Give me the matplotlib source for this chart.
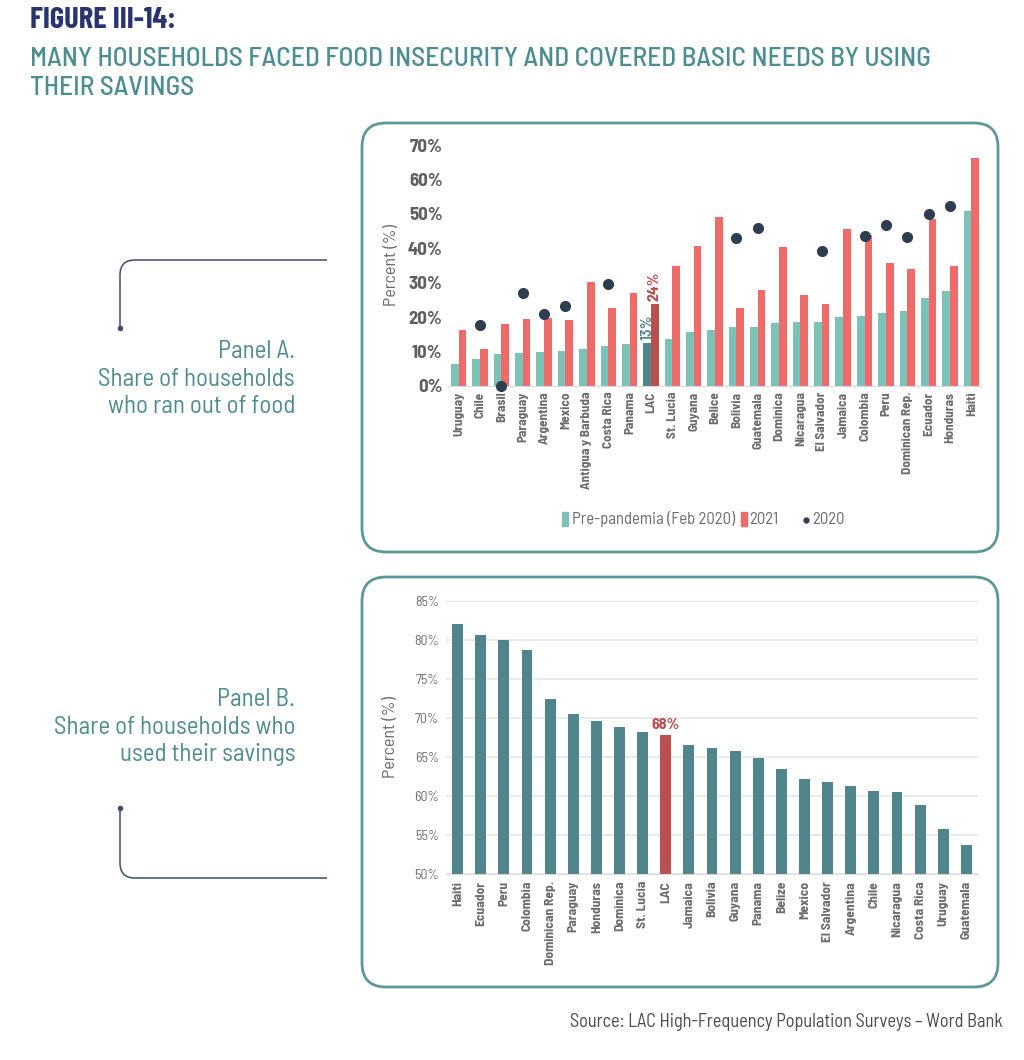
import matplotlib
matplotlib.use("Agg")
import matplotlib.pyplot as plt
from matplotlib.patches import FancyBboxPatch, PathPatch
from matplotlib.path import Path
import numpy as np

plt.rcParams['font.family'] = ['Barlow Semi Condensed', 'DejaVu Sans']
TITLE_FONT = ['Barlow Condensed', 'DejaVu Sans']

# Panel A data
a_countries = ["Uruguay", "Chile", "Brasil", "Paraguay", "Argentina", "Mexico",
               "Antigua y Barbuda", "Costa Rica", "Panama", "LAC", "St. Lucia",
               "Guyana", "Belice", "Bolivia", "Guatemala", "Dominica",
               "Nicaragua", "El Salvador", "Jamaica", "Colombia", "Peru",
               "Dominican Rep.", "Ecuador", "Honduras", "Haiti"]
a_pre = [6.3, 7.7, 9.2, 9.6, 9.8, 10.3, 10.7, 11.5, 12.3, 12.6, 13.6,
         15.7, 16.4, 17.1, 17.2, 18.2, 18.5, 18.7, 20.1, 20.4, 21.1,
         21.9, 25.7, 27.5, 50.8]
a_2021 = [16.3, 10.7, 18.0, 19.6, 19.8, 19.2, 30.3, 22.8, 26.9, 23.8, 34.8,
          40.7, 49.0, 22.6, 27.8, 40.3, 26.3, 23.8, 45.5, 43.9, 35.6,
          34.0, 48.5, 34.8, 66.1]
a_2020 = [np.nan, 17.7, 0.0, 27.1, 20.8, 23.1, np.nan, 29.5, np.nan, np.nan,
          np.nan, np.nan, np.nan, 42.9, 46.0, np.nan, np.nan, 39.3, np.nan,
          43.6, 46.8, 43.4, 50.1, 52.3, np.nan]

# Panel B data
b_countries = ["Haiti", "Ecuador", "Peru", "Colombia", "Dominican Rep.",
               "Paraguay", "Honduras", "Dominica", "St. Lucia", "LAC",
               "Jamaica", "Bolivia", "Guyana", "Panama", "Belize", "Mexico",
               "El Salvador", "Argentina", "Chile", "Nicaragua", "Costa Rica",
               "Uruguay", "Guatemala"]
b_values = [82.0, 80.7, 80.0, 78.7, 72.5, 70.5, 69.6, 68.9, 68.2, 67.8,
            66.6, 66.2, 65.8, 64.9, 63.4, 62.2, 61.8, 61.3, 60.6, 60.5,
            58.8, 55.8, 53.7]

TEAL_L = "#7cc2b6"
RED = "#ef6b6a"
DOT = "#2c3e50"
TEAL_D = "#4f858b"
RED_D = "#b85050"
BOX = "#5d9898"
GREY = "#6b6b6b"
W, H = 1024, 1060


def px_axes(fig, left, top, right, bottom):
    """
    Add axes from pixel coords
    """
    return fig.add_axes([left / W, 1 - bottom / H,
                         (right - left) / W, (bottom - top) / H])


def rounded_box(bg, x0, y0, x1, y1):
    """
    Draw the rounded panel frame
    """
    r = 24
    box = FancyBboxPatch((x0 + r, y0 + r), x1 - x0 - 2 * r, y1 - y0 - 2 * r,
                         boxstyle="round,pad=%d" % r, fill=False,
                         edgecolor=BOX, linewidth=2)
    bg.add_patch(box)


def bracket(bg, x_end, y_line, x_v, y_dot):
    """
    Draw the thin bracket line with a small dot
    """
    r = 15
    s = 1 if y_dot > y_line else -1
    verts = [(x_end, y_line), (x_v + r, y_line), (x_v, y_line),
             (x_v, y_line + s * r), (x_v, y_dot)]
    codes = [Path.MOVETO, Path.LINETO, Path.CURVE3, Path.CURVE3, Path.LINETO]
    bg.add_patch(PathPatch(Path(verts, codes), fill=False,
                           edgecolor="#3d4e6e", linewidth=1.1))
    bg.plot([x_v], [y_dot], "o", color="#3d4e6e", markersize=3)


fig = plt.figure(figsize=(W / 100, H / 100), dpi=100)
fig.patch.set_facecolor("white")

bg = fig.add_axes([0, 0, 1, 1])
bg.set_xlim(0, W)
bg.set_ylim(H, 0)
bg.axis("off")

rounded_box(bg, 362, 123, 998, 552)
rounded_box(bg, 362, 577, 998, 987)
bracket(bg, 327, 260, 120, 328)
bracket(bg, 327, 878, 120, 808)

bg.text(30, 20, "FIGURE III-14:", fontsize=22, fontweight="bold",
        color="#283470", va="center", ha="left", family=TITLE_FONT)
bg.text(30, 59, "MANY HOUSEHOLDS FACED FOOD INSECURITY AND COVERED BASIC NEEDS BY USING",
        fontsize=19.7, color="#4b8d91", va="center", ha="left",
        fontweight="medium")
bg.text(30, 88, "THEIR SAVINGS", fontsize=19.7, color="#4b8d91",
        va="center", ha="left", fontweight="medium")
bg.text(295, 379, "Panel A.\nShare of households\nwho ran out of food",
        fontsize=18, color="#4e8c8f", ha="right", va="center",
        linespacing=1.25)
bg.text(295, 727, "Panel B.\nShare of households who\nused their savings",
        fontsize=18, color="#4e8c8f", ha="right", va="center",
        linespacing=1.25)
bg.text(1003, 1022, "Source: LAC High-Frequency Population Surveys \u2013 Word Bank",
        fontsize=13.2, color="#4a4a4a", ha="right", va="center")

# Panel A
axa = px_axes(fig, 448, 145, 982, 386)
axa.patch.set_alpha(0)
x = np.arange(len(a_countries))
bw = 0.36
lac = a_countries.index("LAC")
pre_cols = [TEAL_D if c == "LAC" else TEAL_L for c in a_countries]
red_cols = [RED_D if c == "LAC" else RED for c in a_countries]
axa.bar(x - bw / 2, a_pre, bw, color=pre_cols, zorder=2)
axa.bar(x + bw / 2, a_2021, bw, color=red_cols, zorder=2)
axa.plot(x, a_2020, "o", color=DOT, markersize=7, linestyle="none",
         clip_on=False, zorder=3)
axa.text(lac - bw / 2, a_pre[lac] + 0.8, "13%", rotation=90, ha="center",
         va="bottom", color=TEAL_D, fontsize=11.5, fontweight="semibold")
axa.text(lac + bw / 2, a_2021[lac] + 0.8, "24%", rotation=90, ha="center",
         va="bottom", color=RED_D, fontsize=11.5, fontweight="bold")
axa.set_xlim(-0.5, len(a_countries) - 0.5)
axa.set_ylim(0, 70)
axa.set_yticks(np.arange(0, 71, 10))
axa.set_yticklabels(["%d%%" % v for v in range(0, 71, 10)],
                    fontweight="bold", color="#5f5f5f", fontsize=13.5)
axa.set_xticks(x)
axa.set_xticklabels(a_countries, rotation=90, fontweight="bold",
                    color=GREY, fontsize=9.5)
axa.tick_params(length=0, pad=4)
axa.set_ylabel("Percent (%)", color=GREY, fontsize=13, labelpad=6)
for s in ["top", "right", "left"]:
    axa.spines[s].set_visible(False)
axa.spines["bottom"].set_color("#d9d9d9")

# legend
bg.add_patch(plt.Rectangle((562, 512), 6, 14, color=TEAL_L))
bg.text(572, 519, "Pre-pandemia (Feb 2020)", fontsize=12, color=GREY,
        va="center", ha="left")
bg.add_patch(plt.Rectangle((741, 512), 6, 14, color=RED))
bg.text(749, 519, "2021", fontsize=12, color=GREY, va="center", ha="left")
bg.plot([806], [520], "o", color=DOT, markersize=3.5)
bg.text(812, 519, "2020", fontsize=12, color=GREY, va="center", ha="left")

# Panel B
axb = px_axes(fig, 446, 601, 978, 874)
axb.patch.set_alpha(0)
xb = np.arange(len(b_countries))
b_cols = [RED_D if c == "LAC" else TEAL_D for c in b_countries]
axb.bar(xb, np.array(b_values) - 50, 0.47, bottom=50, color=b_cols, zorder=2)
lb = b_countries.index("LAC")
axb.text(lb, b_values[lb] + 0.4, "68%", ha="center", va="bottom",
         color=RED_D, fontsize=11.5, fontweight="bold")
axb.set_xlim(-0.5, len(b_countries) - 0.5)
axb.set_ylim(50, 85)
axb.set_yticks(np.arange(50, 86, 5))
axb.set_yticklabels(["%d%%" % v for v in range(50, 86, 5)],
                    color=GREY, fontsize=10)
axb.yaxis.grid(True, color="#e6e6e6", linewidth=1.2, zorder=0)
axb.set_axisbelow(True)
axb.set_xticks(xb)
axb.set_xticklabels(b_countries, rotation=90, fontweight="bold",
                    color=GREY, fontsize=9.7)
axb.tick_params(length=0, pad=5)
axb.set_ylabel("Percent (%)", color=GREY, fontsize=13, labelpad=12)
for s in ["top", "right", "left"]:
    axb.spines[s].set_visible(False)
axb.spines["bottom"].set_color("#d9d9d9")

fig.savefig("out.png", dpi=100, facecolor="white")
